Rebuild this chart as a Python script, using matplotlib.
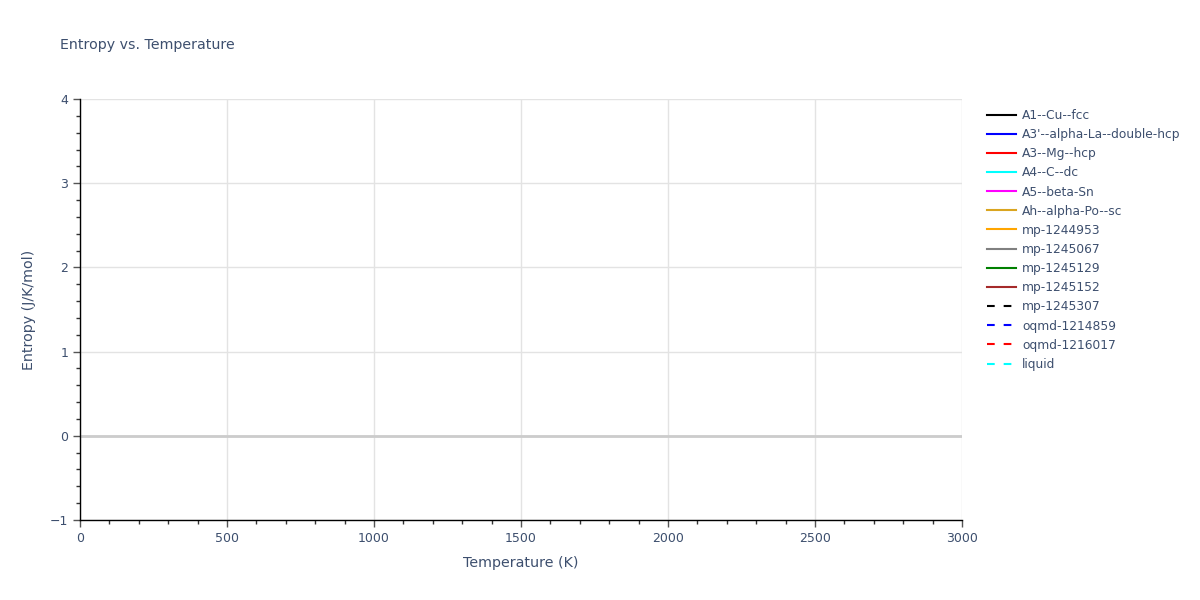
import matplotlib.pyplot as plt
from matplotlib.ticker import MultipleLocator

# phase names, colours and line styles; none of the series has data points
names = ["A1--Cu--fcc", "A3'--alpha-La--double-hcp", "A3--Mg--hcp", "A4--C--dc",
         "A5--beta-Sn", "Ah--alpha-Po--sc", "mp-1244953", "mp-1245067",
         "mp-1245129", "mp-1245152", "mp-1245307", "oqmd-1214859",
         "oqmd-1216017", "liquid"]
colors = ["black", "blue", "red", "cyan", "magenta", "goldenrod", "orange",
          "grey", "green", "brown", "black", "blue", "red", "cyan"]
dashed = [False] * 10 + [True] * 4
temperature = [[] for _ in names]
entropy = [[] for _ in names]

txt = "#3d4f6e"
plt.rcParams['font.family'] = ['DejaVu Sans']

fig = plt.figure(figsize=(12, 6), dpi=100)
ax = fig.add_axes([80 / 1200, 80 / 600, 882 / 1200, 421 / 600])

handles = []
for name, c, d, x, y in zip(names, colors, dashed, temperature, entropy):
    if d:
        h, = ax.plot(x, y, color=c, lw=1.5, dashes=(3.7, 4.3), label=name)
    else:
        h, = ax.plot(x, y, color=c, lw=1.5, label=name)
    handles.append(h)

ax.set_xlim(0, 3000)
ax.set_ylim(-1, 4)
ax.xaxis.set_major_locator(MultipleLocator(500))
ax.xaxis.set_minor_locator(MultipleLocator(100))
ax.yaxis.set_major_locator(MultipleLocator(1))
ax.yaxis.set_minor_locator(MultipleLocator(0.2))
ax.grid(True, which='major', color='#e3e3e3', lw=1)
ax.axhline(0, color='#cccccc', lw=2, zorder=1)
ax.set_axisbelow(True)

for s in ['top', 'right']:
    ax.spines[s].set_visible(False)
for s in ['left', 'bottom']:
    ax.spines[s].set_color('black')
    ax.spines[s].set_linewidth(1)

ax.tick_params(which='major', direction='out', length=5, width=1, color='#555555',
               labelcolor=txt, labelsize=9)
ax.tick_params(which='minor', direction='out', length=3, width=1, color='#333333')
ax.set_xlabel("Temperature (K)", color=txt, fontsize=10.3, labelpad=8)
ax.set_ylabel("Entropy (J/K/mol)", color=txt, fontsize=10.3, labelpad=10)
fig.text(60 / 1200, 1 - 45 / 600, "Entropy vs. Temperature", color=txt,
         fontsize=10.2, va='center', ha='left')

leg = fig.legend(handles=handles, loc='upper left',
                 bbox_to_anchor=(982 / 1200, 1 - 104 / 600), frameon=False,
                 fontsize=8.85, handlelength=2.4, handletextpad=0.45,
                 labelspacing=0.5, borderaxespad=0)
for t in leg.get_texts():
    t.set_color(txt)

fig.savefig("out.png", dpi=100)
